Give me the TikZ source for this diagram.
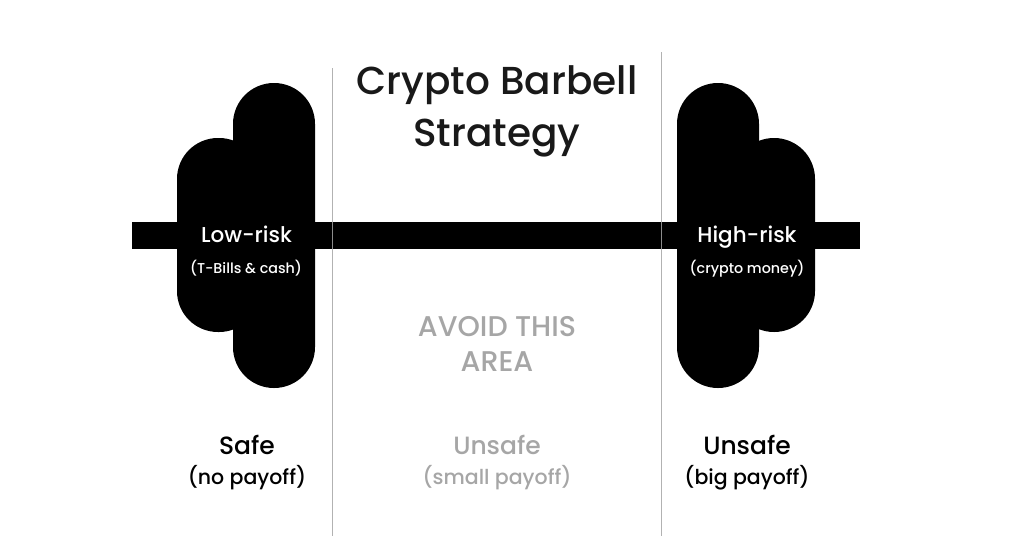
\documentclass[tikz,border=0pt]{standalone}
\usepackage{fontspec}
\setmainfont{Poppins}
\newfontfamily\medf{Poppins Medium}
\tikzset{
 weight/.style={fill=black,rounded corners=40.9pt,draw=none},
 vline/.style={draw=black!30,line width=1pt},
 ttl/.style={font=\fontsize{39}{43}\selectfont\medf,text=black!90,anchor=base,inner sep=0pt},
 big/.style={font=\fontsize{21.5}{24}\selectfont\medf,anchor=base,inner sep=0pt},
 small/.style={font=\fontsize{14.3}{16}\selectfont\medf,anchor=base,inner sep=0pt},
 lbl/.style={font=\fontsize{25}{28}\selectfont\medf,anchor=base,inner sep=0pt},
 sub/.style={font=\fontsize{20.5}{24}\selectfont\medf,anchor=base,inner sep=0pt},
 avoid/.style={font=\fontsize{28.5}{32}\selectfont\medf,text=black!35,anchor=base,inner sep=0pt}
}
\begin{document}
\begin{tikzpicture}[x=1pt,y=-1pt]
\useasboundingbox (0,0) rectangle (1024,536);
\fill[white] (0,0) rectangle (1024,536);
\coordinate (l1) at (332,68); \coordinate (l2) at (332,536);
\coordinate (r1) at (661,52); \coordinate (r2) at (661,536);
\draw[vline] (l1)--(l2);
\draw[vline] (r1)--(r2);
\fill[weight] (177,138) rectangle (260,332);
\fill[weight] (233,83) rectangle (315,388);
\fill[weight] (733,138) rectangle (815,332);
\fill[weight] (677,83) rectangle (759,388);
\fill[black] (132,222) rectangle (860,249);
\draw[black!45,line width=0.8pt] (332,222)--(332,249);
\draw[black!45,line width=0.8pt] (661,222)--(661,249);
\node[ttl] (t1) at (497,94) {Crypto Barbell};
\node[ttl] (t2) at (497,146) {Strategy};
\node[big,text=white] (a) at (246.5,242) {Low-risk};
\node[small,text=white] (b) at (246,273) {(T-Bills \& cash)};
\node[big,text=white] (c) at (747,242) {High-risk};
\node[small,text=white] (d) at (747,273) {(crypto money)};
\node[avoid] (e) at (497,336) {AVOID THIS};
\node[avoid] (f) at (497,371) {AREA};
\node[lbl] (g) at (247,454) {Safe};
\node[sub] (h) at (247,484) {(no payoff)};
\node[lbl,text=black!35] (i) at (497,454) {Unsafe};
\node[sub,text=black!35] (j) at (497,484) {(small payoff)};
\node[lbl] (k) at (747,454) {Unsafe};
\node[sub] (m) at (747,484) {(big payoff)};
\end{tikzpicture}
\end{document}
